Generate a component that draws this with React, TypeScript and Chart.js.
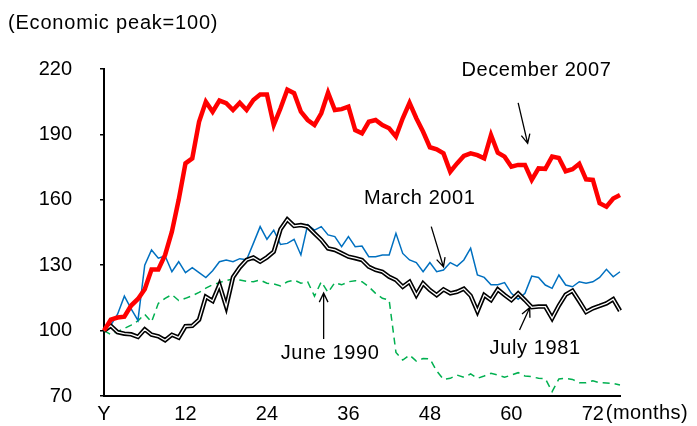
import React, { useEffect, useRef } from 'react';
import { Chart, registerables } from 'chart.js';

Chart.register(...registerables);

// Months since the economic peak (category axis)
const months = [
  0, 1, 2, 3, 4, 5, 6, 7, 8, 9, 10, 11, 12, 13, 14, 15, 16, 17, 18, 19,
  20, 21, 22, 23, 24, 25, 26, 27, 28, 29, 30, 31, 32, 33, 34, 35, 36, 37, 38, 39,
  40, 41, 42, 43, 44, 45, 46, 47, 48, 49, 50, 51, 52, 53, 54, 55, 56, 57, 58, 59,
  60, 61, 62, 63, 64, 65, 66, 67, 68, 69, 70, 71, 72, 73, 74, 75, 76,
];

const labeledMonths = [0, 12, 24, 36, 48, 60, 72];
const firstTickLabel = 'Y';
const yTicks = [70, 100, 130, 160, 190, 220];

const titleText = '(Economic peak=100)';
const unitText = '(months)';

const dec2007 = [
  100, 105, 106, 106.4, 111.5, 114.5, 119, 128, 128, 134.7,
  145.4, 160, 176.7, 179, 195.8, 205, 200.4, 205.5, 204.3, 201.2,
  204.5, 201.2, 205.8, 208.3, 208.3, 194.3, 202, 210.5, 208.9, 200.4,
  196.6, 194.3, 199.7, 209.2, 201.2, 201.6, 202.7, 192, 190.5, 195.8,
  196.6, 194.3, 192.8, 189, 197.4, 204.5, 197.4, 191.2, 184.1, 183.2,
  181.3, 172.9, 176.7, 180.1, 181.3, 180.5, 179, 189.7, 181.6, 179.8,
  175.2, 176, 176, 169.1, 174.4, 174.2, 179.8, 179.2, 173.1, 174,
  176.5, 169.4, 169.1, 158.4, 156.8, 160.6, 162.2,
];

const mar2001 = [
  100, 102.5, 107.5, 115.8, 110, 104.7, 130, 137, 133.2, 134.2,
  127, 131.6, 126.6, 128.9, 126.6, 124.3, 127.5, 131.6, 132.4, 131.6,
  133, 132.5, 140, 147.7, 141.9, 146.1, 139.5, 140, 141.9, 134.7,
  148.5, 146.1, 147.7, 143.9, 143.1, 138.5, 143.1, 138.5, 138.8, 133.9,
  133.9, 134.7, 134.7, 144.6, 135.4, 132.4, 131.2, 127, 131.2, 127,
  127.8, 131.2, 129.6, 132.4, 137.8, 125.5, 124.4, 121, 121, 122,
  117.1, 114.4, 117.1, 125, 124.4, 120.9, 119.4, 125.5, 120.9, 120.1,
  122.4, 121.7, 122.4, 124.4, 128.1, 124.7, 127,
];

const jul1981 = [
  100, 102.2, 99.3, 98.6, 98.3, 97.1, 100.6, 98.1, 97.4, 95.6,
  98.1, 96.8, 102, 102.2, 105, 115.5, 113.6, 121, 111, 124.5,
  129, 132.4, 133.5, 131.6, 133.6, 136.2, 146.5, 151, 148, 148.4,
  147.7, 144.6, 141.6, 137.7, 137, 135.5, 133.9, 133.2, 132.4, 129.3,
  127.8, 127, 124.7, 123.2, 120.1, 122.4, 116.3, 121.7, 118.6, 116.3,
  118.9, 117.1, 117.8, 119.2, 116, 108.8, 116.3, 114, 118.9, 116.3,
  114, 117.1, 114, 110.7, 111, 111, 105.6, 111.5, 116.5, 118.3,
  113.5, 108.5, 110.2, 111.3, 112.5, 114.4, 109.1,
];

const jun1990 = [
  100, 98.2, 99.5, 101, 102.5, 104.5, 107.5, 104, 112.5, 114.8,
  116.5, 113.8, 114.8, 116, 117.5, 119.5, 121, 122, 123, 123.7,
  123.2, 122.6, 122.4, 123.2, 121.7, 121.4, 120.5, 122.4, 123.2, 121.7,
  122.4, 115.8, 122.4, 117.5, 122, 121, 122.4, 122.9, 122.4, 120.1,
  117.1, 114.8, 114, 90, 86.5, 88.8, 86, 87.2, 87, 81.5,
  77.6, 78.1, 79.6, 78.6, 80.1, 78.1, 79.2, 80.4, 79.6, 78.6,
  79.6, 80.7, 79.2, 78.9, 78.1, 78, 72, 77.8, 78.1, 77.6,
  76.1, 76.1, 77, 76.1, 76, 75.8, 75,
];

// Annotation labels and arrows, anchored in data space (month, index value)
const annotations = [
  { text: 'December 2007', at: [63.7, 219.3], from: [61.0, 204.5], to: [62.4, 185.9] },
  { text: 'March 2001', at: [46.5, 160.8], from: [48.2, 147.7], to: [50.0, 129.2] },
  { text: 'June 1990', at: [33.3, 89.3], from: [32.35, 96.1], to: [32.35, 117.2] },
  { text: 'July 1981', at: [63.5, 91.8], from: [61.2, 100.3], to: [62.7, 110.5] },
];

const FONT_FAMILY = '"Liberation Sans", Arial, sans-serif';
const FONT_SIZE = 20;

const annotationPlugin = {
  id: 'annotationPlugin',
  afterDatasetsDraw(chart: any) {
    const { ctx, scales, chartArea } = chart;
    const xs = scales.x;
    const ys = scales.y;
    ctx.save();
    ctx.fillStyle = '#000';
    ctx.strokeStyle = '#000';
    ctx.font = `${FONT_SIZE}px ${FONT_FAMILY}`;
    (ctx as any).letterSpacing = '0.6px';
    ctx.textBaseline = 'middle';
    ctx.textAlign = 'center';
    ctx.lineWidth = 1.3;
    for (const a of annotations) {
      ctx.fillText(a.text, xs.getPixelForValue(a.at[0]), ys.getPixelForValue(a.at[1]));
      const x1 = xs.getPixelForValue(a.from[0]);
      const y1 = ys.getPixelForValue(a.from[1]);
      const x2 = xs.getPixelForValue(a.to[0]);
      const y2 = ys.getPixelForValue(a.to[1]);
      ctx.beginPath();
      ctx.moveTo(x1, y1);
      ctx.lineTo(x2, y2);
      const ang = Math.atan2(y2 - y1, x2 - x1);
      const hl = 10;
      const spread = 0.45;
      ctx.moveTo(x2 - hl * Math.cos(ang - spread), y2 - hl * Math.sin(ang - spread));
      ctx.lineTo(x2, y2);
      ctx.lineTo(x2 - hl * Math.cos(ang + spread), y2 - hl * Math.sin(ang + spread));
      ctx.stroke();
    }
    // title
    ctx.textAlign = 'left';
    (ctx as any).letterSpacing = '0.8px';
    ctx.fillText(titleText, 8, 23);
    // unit label next to last x tick
    (ctx as any).letterSpacing = '0.4px';
    const xLast = xs.getPixelForValue(labeledMonths[labeledMonths.length - 1]);
    ctx.fillText(unitText, xLast + 13, chartArea.bottom + 17);
    ctx.restore();
  },
};

export default function App() {
  const ref = useRef<HTMLCanvasElement>(null);
  useEffect(() => {
    document.body.style.margin = '0';
    const canvas = ref.current!;
    const chart = new Chart(canvas, {
      type: 'line',
      data: {
        labels: months,
        datasets: [
          {
            label: 'December 2007',
            data: dec2007,
            borderColor: '#ff0000',
            borderWidth: 4.5,
            pointRadius: 0,
            tension: 0,
            order: 0,
          },
          {
            label: 'July 1981 inner',
            data: jul1981,
            borderColor: '#ffffff',
            borderWidth: 1.3,
            pointRadius: 0,
            tension: 0,
            order: 1,
          },
          {
            label: 'July 1981',
            data: jul1981,
            borderColor: '#000000',
            borderWidth: 4.5,
            pointRadius: 0,
            tension: 0,
            order: 2,
          },
          {
            label: 'March 2001',
            data: mar2001,
            borderColor: '#0070c0',
            borderWidth: 1.5,
            pointRadius: 0,
            tension: 0,
            order: 3,
          },
          {
            label: 'June 1990',
            data: jun1990,
            borderColor: '#00b050',
            borderWidth: 1.5,
            borderDash: [7, 5],
            pointRadius: 0,
            tension: 0,
            order: 4,
          },
        ],
      },
      options: {
        responsive: false,
        animation: false,
        devicePixelRatio: 1,
        layout: { padding: { top: 69, right: 77, left: 0, bottom: 0 } },
        plugins: {
          legend: { display: false },
          tooltip: { enabled: false },
          title: { display: false },
        },
        scales: {
          x: {
            type: 'category',
            offset: false,
            grid: { display: false, drawOnChartArea: false, drawTicks: false },
            border: { display: true, color: '#000', width: 2 },
            ticks: {
              autoSkip: false,
              maxRotation: 0,
              minRotation: 0,
              padding: 6,
              color: '#000',
              font: { family: FONT_FAMILY, size: FONT_SIZE },
              callback: (_v: any, i: number) =>
                i === labeledMonths[0] ? firstTickLabel : labeledMonths.includes(i) ? String(months[i]) : '',
            },
            afterFit: (s: any) => {
              s.height = 30;
            },
          },
          y: {
            type: 'linear',
            min: yTicks[0],
            max: yTicks[yTicks.length - 1],
            afterBuildTicks: (s: any) => {
              s.ticks = yTicks.map((v) => ({ value: v }));
            },
            grid: { drawOnChartArea: false, drawTicks: true, tickLength: 4, color: '#000', lineWidth: 1.5 },
            border: { display: true, color: '#000', width: 2 },
            ticks: {
              padding: 28,
              color: '#000',
              font: { family: FONT_FAMILY, size: FONT_SIZE },
            },
            afterFit: (s: any) => {
              s.width = 104;
              s.paddingTop = 0;
              s.paddingBottom = 0;
            },
          },
        },
      },
      plugins: [annotationPlugin],
    });
    return () => chart.destroy();
  }, []);
  return (
    <div style={{ width: 697, height: 426, position: 'relative' }}>
      <canvas ref={ref} width={697} height={426} />
    </div>
  );
}
